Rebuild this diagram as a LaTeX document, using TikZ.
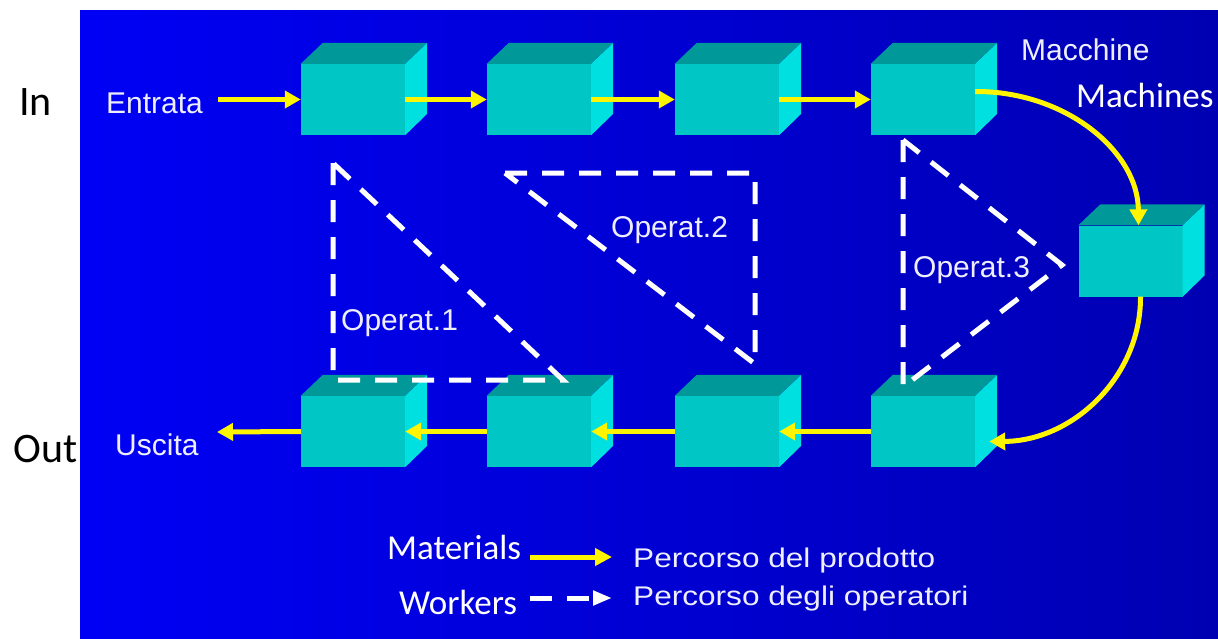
\documentclass[tikz,border=0pt]{standalone}
\usepackage{fontspec}
\setmainfont{Liberation Sans}
\newfontfamily\notefont{Carlito}
\newfontfamily\legendfont[FakeStretch=1.17]{Liberation Sans}
\usetikzlibrary{arrows.meta}

\definecolor{boxfront}{RGB}{0,198,198}
\definecolor{boxtop}{RGB}{0,152,152}
\definecolor{boxside}{RGB}{0,224,224}
\definecolor{flowyellow}{RGB}{255,245,0}
\definecolor{labelwhite}{RGB}{238,238,255}
\definecolor{bgleft}{RGB}{0,0,245}
\definecolor{bgright}{RGB}{0,0,178}

% a machine: front face as a node, top and side faces added around it
\newcommand\drawmachine[2]{%
  \node[machine] (#1) at (#2) {};
  \fill[boxtop] (#1.north west) -- ++(22,-21) -- ++(104,0) -- (#1.north east) -- cycle;
  \fill[boxside] (#1.north east) -- ++(22,-21) -- ++(0,71) -- (#1.south east) -- cycle;
}

\begin{document}
\begin{tikzpicture}[x=1pt,y=-1pt,
  machine/.style={rectangle, fill=boxfront, minimum width=104pt, minimum height=71pt, inner sep=0pt},
  flow/.style={draw=flowyellow, line width=5pt, -{Triangle[length=16pt,width=17pt]}},
  workers/.style={draw=white, line width=5pt, dash pattern=on 22pt off 15pt},
  lbl/.style={inner sep=0pt, anchor=base west, text=labelwhite, font=\fontsize{30}{35}\selectfont},
  legendlbl/.style={inner sep=0pt, anchor=base west, text=labelwhite, font=\legendfont\fontsize{27}{32}\selectfont},
  note/.style={inner sep=0pt, anchor=base west, text=white, font=\notefont\fontsize{35}{41}\selectfont},
  sidenote/.style={inner sep=0pt, anchor=base west, text=black, font=\notefont\fontsize{42}{49}\selectfont}]

\useasboundingbox (0,0) rectangle (1218,638);
\fill[white] (0,0) rectangle (1218,638);
\shade[left color=bgleft, right color=bgright] (80,10) rectangle (1218,638);

% machines
\drawmachine{m1}{353,99.5}
\drawmachine{m2}{539,99.5}
\drawmachine{m3}{727,99.5}
\drawmachine{m4}{923,99.5}
\drawmachine{r}{1130.5,261}
\drawmachine{b4}{923,431.5}
\drawmachine{b3}{727,431.5}
\drawmachine{b2}{539,431.5}
\drawmachine{b1}{353,431.5}

% labels
\node[lbl] (entrata) at (106,113) {Entrata};
\node[lbl] (uscita) at (115,455) {Uscita};
\node[lbl] (macchine) at (1021,60) {Macchine};
\node[lbl] (op1) at (341,330) {Operat.1};
\node[lbl] (op2) at (611,237) {Operat.2};
\node[lbl] (op3) at (913,277) {Operat.3};

% product flow
\coordinate (entry) at (218,99.5);
\coordinate (exitpt) at (217,432);
\draw[flow] (entry) -- (m1.west);
\draw[flow] (m1.east) -- (m2.west);
\draw[flow] (m2.east) -- (m3.west);
\draw[flow] (m3.east) -- (m4.west);
\draw[flow] ([yshift=8pt]m4.east) .. controls (1065,91) and (1138,151) .. ([xshift=8pt]r.north);
\draw[flow] ([xshift=10pt]r.south) .. controls (1141,376.5) and (1073,441) .. ([shift={(14pt,-10pt)}]b4.east);
\draw[flow] (b4.west) -- (b3.east);
\draw[flow] (b3.west) -- (b2.east);
\draw[flow] (b2.west) -- (b1.east);
\draw[flow] (b1.west) -- (exitpt);

% operator walking paths
\coordinate (w1a) at (333,163);
\coordinate (w1b) at (333,380);
\coordinate (w1c) at (563,380);
\draw[workers] (w1a) -- (w1b) -- (w1c) -- cycle;
\coordinate (w2a) at (505,173);
\coordinate (w2b) at (755,173);
\coordinate (w2c) at (755,364);
\draw[workers] (w2a) -- (w2b) -- (w2c) -- cycle;
\coordinate (w3a) at (903,140);
\coordinate (w3b) at (903,387);
\coordinate (w3c) at (1062,265);
\draw[workers] (w3a) -- (w3b) -- (w3c) -- cycle;

% legend
\coordinate (lega) at (530,557);
\coordinate (legb) at (612,557);
\coordinate (legc) at (530,598);
\coordinate (legd) at (612,598);
\draw[flow, -{Triangle[length=17pt,width=17pt]}] (lega) -- (legb);
\draw[workers, -{Triangle[length=19pt,width=14pt]}] (legc) -- (legd);
\node[legendlbl] (leg1) at (633,567) {Percorso del prodotto};
\node[legendlbl] (leg2) at (633,605) {Percorso degli operatori};

% English notes
\node[sidenote] (in) at (19,115) {In};
\node[sidenote] (out) at (13,462) {Out};
\node[note] (machines) at (1076,107) {Machines};
\node[note] (materials) at (387,559) {Materials};
\node[note] (workersl) at (399,614) {Workers};
\end{tikzpicture}
\end{document}
